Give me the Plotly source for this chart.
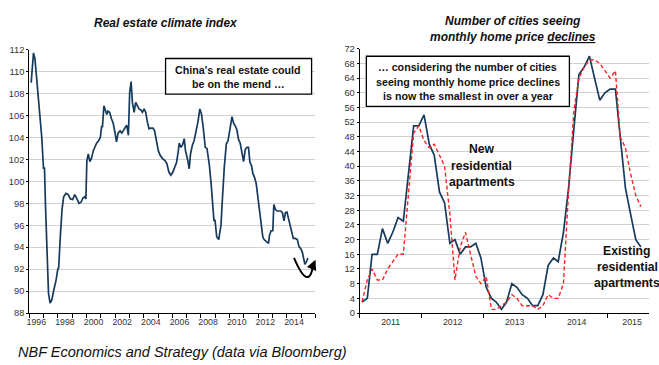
import plotly.graph_objects as go

# ---------------- Real estate climate index (left panel) ----------------
climate_years = [
    1996.14, 1996.30, 1996.40, 1996.60, 1996.72, 1996.88, 1997.00, 1997.07, 1997.14, 1997.23,
    1997.35, 1997.46, 1997.58, 1997.72, 1997.88, 1998.00, 1998.06, 1998.18, 1998.30, 1998.41,
    1998.57, 1998.73, 1998.88, 1999.04, 1999.18, 1999.34, 1999.48, 1999.62, 1999.76, 1999.88,
    1999.96, 2000.03, 2000.13, 2000.24, 2000.35, 2000.48, 2000.62, 2000.72, 2000.85, 2000.97,
    2001.06, 2001.12, 2001.22, 2001.33, 2001.42, 2001.50, 2001.62, 2001.75, 2001.87, 2001.98,
    2002.10, 2002.21, 2002.35, 2002.47, 2002.63, 2002.75, 2002.82, 2002.93, 2003.02, 2003.12,
    2003.21, 2003.33, 2003.44, 2003.56, 2003.67, 2003.81, 2003.91, 2004.03, 2004.14, 2004.26,
    2004.37, 2004.51, 2004.65, 2004.76, 2004.88, 2005.02, 2005.14, 2005.30, 2005.49, 2005.62,
    2005.76, 2005.90, 2006.04, 2006.18, 2006.30, 2006.41, 2006.48, 2006.60, 2006.71, 2006.83,
    2006.92, 2007.08, 2007.18, 2007.27, 2007.40, 2007.52, 2007.66, 2007.80, 2007.92, 2008.03,
    2008.15, 2008.30, 2008.42, 2008.59, 2008.71, 2008.82, 2008.91, 2008.98, 2009.10, 2009.24,
    2009.35, 2009.40, 2009.47, 2009.52, 2009.63, 2009.77, 2009.89, 2010.17, 2010.28, 2010.42,
    2010.51, 2010.63, 2010.74, 2010.98, 2011.09, 2011.21, 2011.32, 2011.42, 2011.53, 2011.63,
    2011.75, 2011.86, 2011.95, 2012.04, 2012.13, 2012.23, 2012.32, 2012.41, 2012.55, 2012.72,
    2012.79, 2012.90, 2013.02, 2013.09, 2013.20, 2013.32, 2013.46, 2013.57, 2013.69, 2013.80,
    2013.90, 2014.01, 2014.10, 2014.22, 2014.36, 2014.45, 2014.59, 2014.73, 2014.85, 2014.96,
    2015.08, 2015.20, 2015.26, 2015.38, 2015.47,
]
climate_index = [
    109.0, 111.7, 111.2, 108.1, 105.7, 104.0, 101.2, 101.2, 97.75, 93.6,
    89.8, 88.9, 89.2, 90.1, 91.0, 92.0, 92.1, 95.1, 97.5, 98.6,
    98.9, 98.8, 98.4, 98.35, 98.8, 98.4, 98.0, 98.1, 98.5, 98.6,
    98.4, 101.9, 102.5, 101.8, 102.1, 102.8, 103.3, 103.5, 103.7, 104.0,
    105.0, 105.0, 106.9, 106.5, 106.1, 106.4, 106.3, 105.7, 105.3, 104.55,
    103.6, 104.4, 104.6, 104.4, 104.8, 105.0, 105.1, 104.2, 108.1, 109.1,
    107.2, 106.3, 107.2, 106.8, 106.6, 106.5, 106.3, 106.6, 106.3, 105.4,
    104.8, 104.85, 104.85, 104.6, 103.7, 102.8, 102.4, 102.1, 101.9, 101.6,
    100.85, 100.56, 100.85, 101.45, 101.75, 102.7, 103.5, 103.1, 103.3, 103.9,
    102.8, 101.9, 101.15, 102.5, 103.3, 103.7, 104.55, 105.5, 106.6, 106.2,
    105.0, 103.1, 103.0, 101.45, 99.8, 98.05, 96.4, 96.5, 94.95, 94.7,
    95.5, 96.0, 97.75, 98.9, 101.3, 103.4, 103.7, 105.9, 105.3, 105.0,
    104.7, 103.8, 103.5, 101.8, 102.9, 103.1, 103.1, 101.75, 101.45, 100.7,
    100.35, 99.8, 98.9, 98.05, 97.2, 96.1, 94.95, 94.7, 94.55, 94.35,
    95.1, 95.5, 95.5, 97.9, 97.45, 97.3, 97.3, 97.3, 97.15, 96.4,
    97.15, 97.2, 96.7, 96.0, 95.1, 94.8, 94.8, 94.7, 94.05, 93.9,
    93.55, 92.8, 92.45, 92.7, 93.0,
]
climate_tick_years = [1996, 1998, 2000, 2002, 2004, 2006, 2008, 2010, 2012, 2014]
climate_y_ticks = list(range(88, 113, 2))

# ------------- Cities with monthly home price declines (right panel) -------------
# monthly observations, January 2011 onwards
new_apartments = [
    3, 9, 12, 9, 9, 12, 14, 16, 16, 32,
    49, 51, 47, 45, 46, 43, 40, 27, 9, 18,
    22, 16, 10, 8, 10, 1, 1, 2, 3, 5,
    4, 2, 2, 2, 1, 2, 5, 4, 4, 8,
    33, 55, 64, 67, 69, 69, 68, 66, 64, 66,
    48, 45, 38, 32, 29,
]
existing_apartments = [
    3, 4, 16, 16, 23, 19, 22, 26, 25, 38,
    51, 51, 54, 46, 43, 33, 30, 19, 20, 16,
    18, 18, 19, 15, 7, 4, 3, 1, 3, 8,
    7, 5, 4, 2, 2, 5, 13, 15, 14, 22,
    34, 50, 65, 67, 70, 64, 58, 60, 61, 61,
    48, 34, 27, 20, 18,
]
city_years = [2011, 2012, 2013, 2014, 2015]
city_y_ticks = list(range(0, 73, 4))

month_dates = []
for i in range(len(existing_apartments)):
    yr, mo = 2011 + i // 12, i % 12 + 1
    month_dates.append(f"{yr}-{mo:02d}-15")

NAVY = "#153a5c"
RED = "#ff2222"
TEXT = "#111111"
TICK_FONT = dict(family="Liberation Sans Narrow, Arial Narrow, Liberation Sans, Arial", size=9.3, color="#333333")
XTICK_FONT = dict(family="Liberation Sans Narrow, Arial Narrow, Liberation Sans, Arial", size=8.8, color="#333333")
FONT = "Liberation Sans, Arial, sans-serif"
W, H = 659, 365


def px(x):
    return x / W


def py(y):
    return 1 - y / H


fig = go.Figure()
fig.add_trace(go.Scatter(x=climate_years, y=climate_index, mode="lines",
                         line=dict(color=NAVY, width=1.7), xaxis="x", yaxis="y",
                         hoverinfo="skip"))
fig.add_trace(go.Scatter(x=month_dates, y=existing_apartments, mode="lines",
                         line=dict(color=NAVY, width=1.7), xaxis="x2", yaxis="y2",
                         name="Existing residential apartments"))
fig.add_trace(go.Scatter(x=month_dates, y=new_apartments, mode="lines",
                         line=dict(color=RED, width=1.4, dash="4px,2.5px"), xaxis="x2", yaxis="y2",
                         name="New residential apartments"))

axis_common = dict(showline=True, linecolor="#000000", linewidth=1, zeroline=False)

fig.update_layout(
    width=W, height=H,
    margin=dict(l=0, r=0, t=0, b=0),
    paper_bgcolor="white", plot_bgcolor="white",
    showlegend=False,
    font=dict(family=FONT, color=TEXT),
    xaxis=dict(
        domain=[px(26.3), px(313.9)], anchor="y", range=[1996, 2016],
        tickmode="array", tickvals=[y + 0.5 for y in climate_tick_years],
        ticktext=[str(y) for y in climate_tick_years], ticks="", showgrid=False,
        tickfont=XTICK_FONT,
        minor=dict(tickmode="array", tickvals=list(range(1996, 2017)), ticks="outside",
                   ticklen=4, tickcolor="#000000", showgrid=False),
        **axis_common,
    ),
    yaxis=dict(
        domain=[py(316.7), py(46)], anchor="x", range=[88, 112],
        tickmode="array", tickvals=climate_y_ticks, ticks="outside", ticklen=2,
        tickcolor="#000000", showgrid=True, gridcolor="#d2d2d2", gridwidth=1.3,
        tickfont=TICK_FONT, **axis_common,
    ),
    xaxis2=dict(
        domain=[px(358.3), px(649)], anchor="y2", type="date",
        range=["2011-01-01", "2015-09-01"],
        tickmode="array",
        tickvals=["2011-07-02", "2012-07-02", "2013-07-02", "2014-07-02", "2015-05-24"],
        ticktext=[str(y) for y in city_years], ticks="", showgrid=False,
        tickfont=XTICK_FONT,
        minor=dict(tickmode="array", tickvals=[f"{y}-01-01" for y in city_years],
                   ticks="outside", ticklen=4, tickcolor="#000000", showgrid=False),
        **axis_common,
    ),
    yaxis2=dict(
        domain=[py(316.7), py(45)], anchor="x2", range=[0, 72],
        tickmode="array", tickvals=city_y_ticks, ticks="outside", ticklen=2,
        tickcolor="#000000", showgrid=True, gridcolor="#d2d2d2", gridwidth=1.3,
        tickfont=TICK_FONT, **axis_common,
    ),
)

# callout boxes
for x0, y0, x1, y1 in [(163.3, 55, 310, 91.7), (365, 52.7, 569, 104.3)]:
    fig.add_shape(type="rect", xref="paper", yref="paper",
                  x0=px(x0), x1=px(x1), y0=py(y1), y1=py(y0),
                  line=dict(color="#000000", width=1.3), fillcolor="white", layer="above")

# turning-point arrow under the latest readings
fig.add_shape(type="path", xref="x", yref="y",
              path="M 2014.50,93.03 Q 2015.52,89.9 2015.84,92.35",
              line=dict(color="#000000", width=2), layer="above")
fig.add_annotation(x=2016.0, y=92.85, ax=2015.82, ay=92.3, xref="x", yref="y",
                   axref="x", ayref="y", text="", showarrow=True, arrowhead=2,
                   arrowsize=1, arrowwidth=2, arrowcolor="#000000", standoff=0)


def label(text, x, y, size, bold=True, italic=False, xanchor="center"):
    t = text
    if italic:
        t = f"<i>{t}</i>"
    if bold:
        t = f"<b>{t}</b>"
    fig.add_annotation(text=t, x=px(x), y=py(y), xref="paper", yref="paper",
                       xanchor=xanchor, yanchor="middle", showarrow=False,
                       font=dict(family=FONT, size=size, color=TEXT))


label("Real estate climate index", 164.2, 18, 12, italic=True)
label("Number of cities seeing", 512.2, 16.5, 12, italic=True)
label('monthly home price <span style="text-decoration:underline">declines</span>',
      512.5, 33.3, 12, italic=True)

label("China's real estate could", 236.5, 67, 10.7)
label("be on the mend …", 236.5, 80.8, 10.7)

label("… considering the number of cities", 467, 63.5, 10.7)
label("seeing monthly home price declines", 467, 78.8, 10.7)
label("is now the smallest in over a year", 467, 93.7, 10.7)

label("New", 480.7, 148.3, 12.2)
label("residential", 480.7, 165.5, 12.2)
label("apartments", 480.7, 182, 12.2)

label("Existing", 626.5, 253.3, 12.2)
label("residential", 627.5, 269.5, 12.2)
label("apartments", 626.5, 286, 12.2)

label("NBF Economics and Strategy (data via Bloomberg)", 13, 357, 14.5,
      bold=False, italic=True, xanchor="left")

fig.write_html("out.html")
